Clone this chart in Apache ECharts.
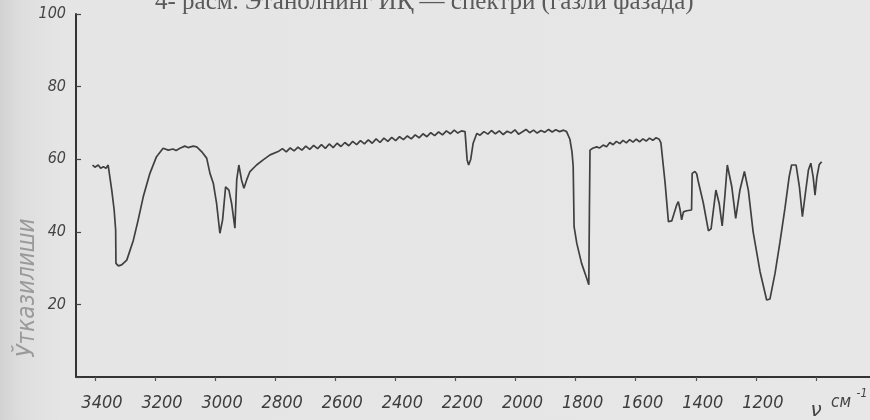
<!DOCTYPE html>
<html>
<head>
<meta charset="utf-8">
<script src="https://cdn.jsdelivr.net/npm/echarts@6/dist/echarts.min.js"></script>
<style>
html,body{margin:0;padding:0;}
body{width:870px;height:420px;background:linear-gradient(to right,#d2d2d2 0px,#dedede 22px,#e5e5e5 60px,#e7e7e7 100%);}
#c{width:870px;height:420px;}
</style>
</head>
<body>
<div id="c"></div>
<script>
// ---- data ----
const titleText = '4- расм. Этанолнинг ИҚ — спектри (газли фазада)';
const yName = 'Ўтказилиши';
const xTicks = [3400, 3200, 3000, 2800, 2600, 2400, 2200, 2000, 1800, 1600, 1400, 1200, 1000];
const xTickLabels = [3400, 3200, 3000, 2800, 2600, 2400, 2200, 2000, 1800, 1600, 1400, 1200];
const yTicks = [0, 20, 40, 60, 80, 100];

// wavenumber (cm^-1) and transmission (%) pairs, read segment by segment
const segOH = [
  [3408,58.4],[3400,57.8],[3389,58.4],[3381,57.5],[3372,57.9],[3363,57.5],[3356,58.4],
  [3344,51.5],[3336,46],[3331,40.5],[3330,31.3],[3322,30.6],[3311,30.9],[3294,32.2],
  [3272,37.7],[3256,43.3],[3239,49.7],[3217,56.1],[3195,60.7],[3173,63],[3156,62.5],
  [3140,62.8],[3130,62.4],[3117,63],[3101,63.6],[3090,63.2],[3073,63.6],[3061,63.4],
  [3045,62.1],[3028,60.3]
];
const segCH = [
  [3017,56.1],[3006,53.4],[2995,47.8],[2984,39.6],[2975,43.3],[2965,52.4],[2954,51.5],
  [2945,47.8],[2934,41],[2928,54.3],[2921,58.4],[2912,54.3],[2904,52],[2895,54.3],
  [2884,56.6],[2862,58.4],[2840,59.8],[2817,61.2],[2790,62.1]
];
const segPlateau1 = [
  [2776,62.9],[2763,62.0],[2750,63.1],[2737,62.3],[2724,63.3],[2711,62.5],[2698,63.6],
  [2685,62.7],[2672,63.8],[2659,62.9],[2646,64.0],[2633,63.0],[2620,64.2],[2607,63.2],
  [2594,64.4],[2581,63.5],[2568,64.6],[2555,63.7],[2542,64.9],[2529,64.0],[2516,65.1],
  [2503,64.2],[2490,65.3],[2477,64.4],[2464,65.6],[2451,64.6],[2438,65.8],[2425,64.9],
  [2412,66.0],[2399,65.1],[2386,66.2],[2373,65.4],[2360,66.4],[2347,65.6],[2334,66.7],
  [2321,65.9],[2308,67.0],[2295,66.2],[2282,67.3],[2269,66.5],[2256,67.5],[2243,66.7],
  [2230,67.8],[2217,67.0],[2204,68.0],[2192,67.2],[2180,67.8],[2168,67.6]
];
const segDip2160 = [
  [2161,59.8],[2156,58.4],[2149,60],[2141,64.4],[2129,67.1]
];
const segPlateau2 = [
  [2118,66.6],[2105,67.6],[2092,66.9],[2080,67.9],[2067,67.0],[2054,67.8],[2041,66.8],
  [2028,67.7],[2015,67.2],[2002,68.1],[1990,66.9],[1978,67.5],[1965,68.2],[1953,67.3],
  [1940,68.0],[1928,67.2],[1915,67.9],[1903,67.4],[1890,68.2],[1878,67.5],[1866,68.1],
  [1853,67.6],[1840,68.0],[1830,67.6]
];
const segCO = [
  [1819,65.5],[1812,62],[1808,58],[1805,41.4],[1796,36.8],[1780,31.3],[1763,27.2],
  [1756,25.4],[1754,46],[1752,62.5],[1743,63],[1730,63.4]
];
const segPlateau3 = [
  [1720,63.1],[1708,63.9],[1697,63.4],[1686,64.6],[1675,64.0],[1664,64.9],[1653,64.3],
  [1642,65.2],[1631,64.5],[1620,65.4],[1609,64.7],[1598,65.5],[1587,64.8],[1576,65.6],
  [1565,65.0],[1554,65.8],[1543,65.2],[1532,65.9],[1522,65.5],[1516,64.5]
];
const segFingerprint = [
  [1502,53.4],[1491,42.8],[1480,43.0],[1475,43.3],[1463,47.5],[1458,48.3],[1452,46],
  [1447,43.3],[1441,45.5],[1430,45.8],[1414,46],[1412,56.1],[1403,56.6],[1397,56],
  [1392,54],[1375,48],[1358,40.3],[1349,40.8],[1333,51.5],[1322,47.8],[1312,41.6],
  [1303,50],[1295,58.4],[1280,52.4],[1267,43.7],[1253,51.5],[1238,56.6],[1225,51.5],
  [1209,40],[1186,29],[1164,21.2],[1153,21.5],[1136,28.6],[1120,37],[1103,46.5],
  [1089,55.2],[1081,58.4],[1066,58.4],[1055,52.4],[1045,44.2],[1036,50],[1025,57],
  [1017,58.9],[1009,55],[1003,50.1],[997,55],[989,58.5],[981,59.3]
];

const spectrum = [].concat(segOH, segCH, segPlateau1, segDip2160, segPlateau2, segCO, segPlateau3, segFingerprint);

const chart = echarts.init(document.getElementById('c'), null, {renderer: 'canvas'});
const tickFont = "'DejaVu Sans Condensed', 'DejaVu Sans', sans-serif";

chart.setOption({
  backgroundColor: 'transparent',
  animation: false,
  grid: {left: 76, right: 0, top: 14, bottom: 43, outerBoundsMode: 'none'},
  xAxis: {
    type: 'value',
    inverse: true,
    min: 820,
    max: 3463,
    splitLine: {show: false},
    axisLine: {show: true, lineStyle: {color: '#333', width: 2}},
    axisTick: {show: true, inside: false, length: 4, customValues: xTicks, lineStyle: {color: '#555', width: 1.2}},
    axisLabel: {
      customValues: xTickLabels,
      margin: 17,
      color: '#3d3d3d',
      fontFamily: tickFont,
      fontStyle: 'italic',
      fontSize: 18,
      padding: [0, 0, 0, 14],
      formatter: v => String(v)
    }
  },
  yAxis: {
    type: 'value',
    min: 0,
    max: 100,
    interval: 20,
    splitLine: {show: false},
    axisLine: {show: true, lineStyle: {color: '#333', width: 2}},
    axisTick: {show: true, inside: true, length: 5, lineStyle: {color: '#444', width: 1.2}},
    axisLabel: {
      margin: 10,
      color: '#444',
      fontFamily: tickFont,
      fontStyle: 'italic',
      fontSize: 16,
      formatter: v => (v === 0 ? '' : String(v))
    }
  },
  series: [{
    type: 'line',
    data: spectrum,
    showSymbol: false,
    smooth: false,
    lineStyle: {color: '#404040', width: 1.7},
    z: 3
  }],
  graphic: [
    {
      type: 'text',
      left: 155,
      top: -10,
      style: {
        text: titleText,
        font: "25px 'Liberation Serif', 'DejaVu Serif', serif",
        fill: '#5a5a5a'
      }
    },
    {
      type: 'text',
      x: 28,
      y: 288,
      rotation: Math.PI / 2,
      style: {
        text: yName,
        font: "italic 24px 'DejaVu Sans Condensed', 'DejaVu Sans', sans-serif",
        fill: '#9a9a9a',
        align: 'center',
        verticalAlign: 'middle'
      }
    },
    {
      type: 'text',
      x: 816,
      y: 411,
      style: {text: 'ν', font: "italic 20px 'DejaVu Sans', sans-serif", fill: '#444', align: 'center', verticalAlign: 'middle'}
    },
    {
      type: 'text',
      x: 841,
      y: 403,
      style: {text: 'см', font: "italic 17px 'DejaVu Sans Condensed', 'DejaVu Sans', sans-serif", fill: '#444', align: 'center', verticalAlign: 'middle'}
    },
    {
      type: 'text',
      x: 862,
      y: 394,
      style: {text: '-1', font: "italic 12px 'DejaVu Sans Condensed', 'DejaVu Sans', sans-serif", fill: '#444', align: 'center', verticalAlign: 'middle'}
    }
  ]
});
</script>
</body>
</html>
